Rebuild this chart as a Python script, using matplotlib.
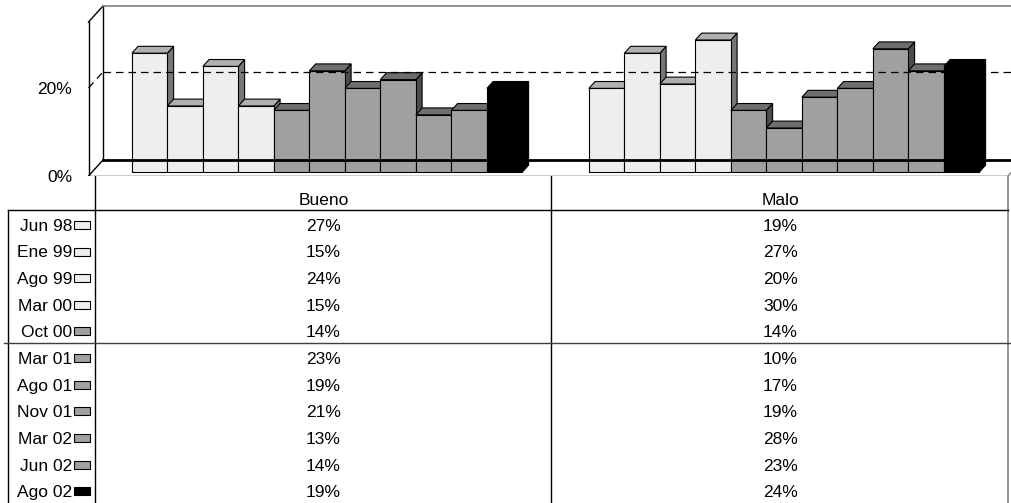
import matplotlib.pyplot as plt
from matplotlib.patches import Polygon, Rectangle

plt.rcParams['font.family'] = ['Liberation Sans', 'DejaVu Sans']

# data
categories = ['Bueno', 'Malo']
periods = ['Jun 98', 'Ene 99', 'Ago 99', 'Mar 00', 'Oct 00', 'Mar 01',
           'Ago 01', 'Nov 01', 'Mar 02', 'Jun 02', 'Ago 02']
bueno = [27, 15, 24, 15, 14, 23, 19, 21, 13, 14, 19]
malo = [19, 27, 20, 30, 14, 10, 17, 19, 28, 23, 24]
y_ticks = [0, 20]
values = [bueno, malo]

# shade per period: 4 light, 6 gray, last black
light = ('#eeeeee', '#b0b0b0', '#777777')
gray = ('#a0a0a0', '#6e6e6e', '#4c4c4c')
black = ('#000000', '#000000', '#000000')
shades = [light] * 4 + [gray] * 6 + [black]

W, H = 1011, 503
FS = 12.5
fig = plt.figure(figsize=(W / 100, H / 100), dpi=100)

# pixel helpers for layout (category width 457 px, 4.4 px per percent)
CAT_PX = 457.0
PCT_PX = 4.4
def px2x(px):
    return -0.5 + (px - 95) / CAT_PX

FLOOR_Y = 176  # pixel row of the front 0% line
ax = fig.add_axes([0, 1 - FLOOR_Y / H, 1, FLOOR_Y / H])
ax.set_xlim(px2x(0), px2x(W))
ax.set_ylim(0, FLOOR_Y / PCT_PX)
ax.axis('off')

DX = 14.5 / CAT_PX   # full depth, x shift
DY = 16 / PCT_PX     # full depth, y shift
top_pct = 35

x0 = px2x(88.5)
xr = px2x(1008)
xfar = px2x(W + 30)

# walls and floor
ax.plot([x0 + DX, x0 + DX], [DY, top_pct + DY], color='black', lw=1)
ax.plot([x0, x0], [0, top_pct], color='black', lw=1)
ax.plot([x0, x0 + DX], [top_pct, top_pct + DY], color='black', lw=1)
ax.plot([x0 + DX, xfar], [top_pct + DY, top_pct + DY], color='#808080', lw=1.2)
ax.plot([x0, x0 + DX], [0, DY], color='black', lw=1)
ax.plot([x0 + DX, xfar], [DY, DY], color='black', lw=2)
ax.plot([x0, xr], [0, 0], color='black', lw=1)
ax.plot([xr, xr + DX], [0, DY], color='#808080', lw=1)

# 20% gridline on back and side walls
g = y_ticks[1]
ax.plot([x0 + DX, xfar], [g + DY, g + DY], color='black', lw=0.9,
        dashes=(6, 4))
ax.plot([x0, x0 + DX], [g, g + DY], color='black', lw=0.9, dashes=(6, 4))

for t in y_ticks:
    ax.text(px2x(72), t - 0.3, f'{t}%', ha='right', va='center', fontsize=FS)

# 3-D columns
bar_w = 35.5 / CAT_PX
f0, f1 = 0.25, 0.68
n = len(periods)
for ci, vals in enumerate(values):
    left0 = ci - n * bar_w / 2
    for i, h in enumerate(vals):
        face, topc, side = shades[i]
        l = left0 + i * bar_w
        r = l + bar_w
        a0x, a0y = f0 * DX, f0 * DY
        a1x, a1y = f1 * DX, f1 * DY
        ax.add_patch(Polygon([(r + a0x, a0y), (r + a1x, a1y),
                              (r + a1x, h + a1y), (r + a0x, h + a0y)],
                             closed=True, fc=side, ec='black', lw=0.8))
        ax.add_patch(Polygon([(l + a0x, h + a0y), (r + a0x, h + a0y),
                              (r + a1x, h + a1y), (l + a1x, h + a1y)],
                             closed=True, fc=topc, ec='black', lw=0.8))
        ax.add_patch(Rectangle((l + a0x, a0y), bar_w, h,
                               fc=face, ec='black', lw=0.8))

# data table
ROW_PX = (H - 210) / n
HEAD = (210 - FLOOR_Y) / ROW_PX
tb = fig.add_axes([0, 0, 1, 1 - FLOOR_Y / H])
tb.set_xlim(px2x(0), px2x(W))
tb.set_ylim(n, -HEAD)
tb.axis('off')

xl = px2x(8)
xc = px2x(95)
xm = px2x(551)
tb.plot([xc, xc], [-HEAD, n], color='black', lw=1)
tb.plot([xm, xm], [-HEAD, n], color='black', lw=1)
tb.plot([xr, xr], [-HEAD, n], color='#808080', lw=1.2)
tb.plot([xl, xl], [0, n], color='black', lw=1)
tb.plot([xl, xr], [0, 0], color='black', lw=1)
tb.plot([px2x(4), px2x(W)], [5, 5], color='#404040', lw=1)

base = 0.78
for ci, name in enumerate(categories):
    tb.text(ci, -0.2, name, ha='center', va='baseline', fontsize=FS)
    for i, v in enumerate(values[ci]):
        tb.text(ci, i + base, f'{v}%', ha='center', va='baseline', fontsize=FS)

key_w = 16 / CAT_PX
key_h = 8 / ROW_PX
for i, p in enumerate(periods):
    tb.text(px2x(72), i + base, p, ha='right', va='baseline', fontsize=FS)
    tb.add_patch(Rectangle((px2x(74), i + 0.56 - key_h / 2), key_w, key_h,
                           fc=shades[i][0], ec='black', lw=0.8))

fig.savefig('out.png', dpi=100)
